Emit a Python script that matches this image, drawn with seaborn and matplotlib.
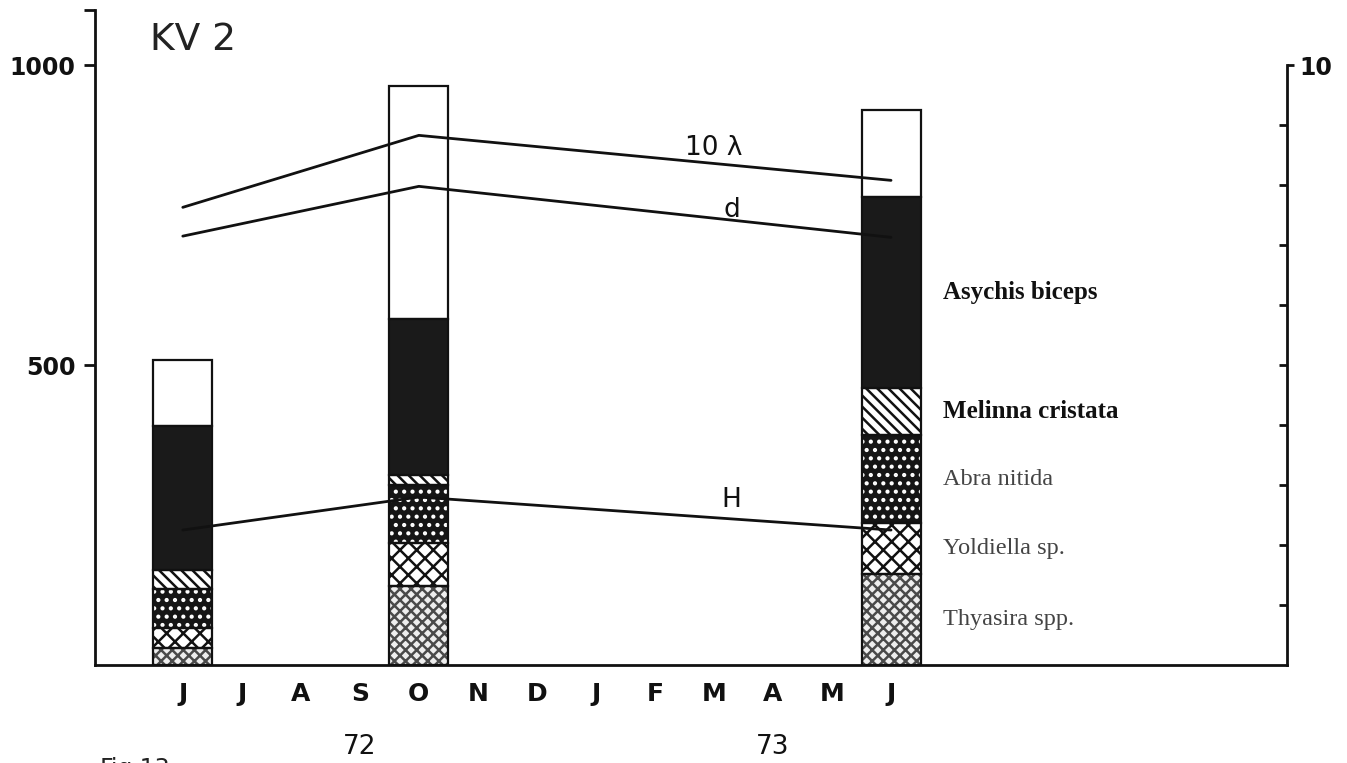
import numpy as np
import pandas as pd
import matplotlib
matplotlib.use('Agg')
import matplotlib.pyplot as plt
import seaborn as sns
from matplotlib.ticker import FixedLocator

sns.set_theme(style='white')
plt.rcParams['font.family'] = ['DejaVu Sans']
plt.rcParams['hatch.linewidth'] = 1.8

# months Jun 72 .. Jun 73
months = ['J', 'J', 'A', 'S', 'O', 'N', 'D', 'J', 'F', 'M', 'A', 'M', 'J']
sample_pos = [0, 4, 12]  # June 72, Oct 72, June 73

# abundance per species (individuals), stacked bottom to top
species = ['Thyasira spp.', 'Yoldiella sp.', 'Abra nitida', 'Melinna cristata',
           'Asychis biceps', 'others']
thyasira = [28, 132, 152]
yoldiella = [34, 71, 85]
abra = [65, 97, 146]
melinna = [31, 17, 79]
asychis = [240, 260, 318]
others = [110, 388, 145]

# diversity indices (right axis, 0-10)
lambda10 = [7.63, 8.83, 8.08]
d_index = [7.15, 7.98, 7.13]
h_index = [2.25, 2.80, 2.25]

styles = [
    dict(facecolor='#eeeeee', hatch_color='#4a4a4a', hatch='xxx'),      # Thyasira
    dict(facecolor='white', hatch_color='#111111', hatch='xx'),          # Yoldiella
    dict(facecolor='#151515', hatch_color='white', hatch='..'),          # Abra
    dict(facecolor='white', hatch_color='#111111', hatch='\\\\\\'),      # Melinna
    dict(facecolor='#1a1a1a', hatch_color='#1a1a1a', hatch=None),        # Asychis
    dict(facecolor='white', hatch_color='white', hatch=None),            # others
]

fig = plt.figure(figsize=(13.47, 7.63), dpi=100)
ax = fig.add_axes([95 / 1347, 1 - 665 / 763, 1192 / 1347, 655 / 763])
ax2 = ax.twinx()

stack = np.array([thyasira, yoldiella, abra, melinna, asychis, others], dtype=float)
bottoms = np.zeros(len(sample_pos))
bar_w = 1.0
for vals, st in zip(stack, styles):
    ax.bar(sample_pos, vals, bottom=bottoms, width=bar_w, color=st['facecolor'],
           edgecolor=st['hatch_color'], hatch=st['hatch'], linewidth=0, zorder=2)
    ax.bar(sample_pos, vals, bottom=bottoms, width=bar_w, fill=False,
           edgecolor='#111111', linewidth=1.6, zorder=3)
    bottoms += vals

# species labels beside the last bar
last_bottom = 0
for name, vals in zip(species[:-1], stack[:-1]):
    mid = last_bottom + vals[-1] / 2
    last_bottom += vals[-1]
    dark = name in ('Asychis biceps', 'Melinna cristata')
    ax.text(12.88, mid, name, family='Liberation Serif',
            fontsize=18 if dark else 17.5,
            fontweight='bold' if dark else 'normal',
            color='#111111' if dark else '#444444', ha='left', va='center')

idx = pd.DataFrame({'pos': sample_pos * 3,
                    'value': lambda10 + d_index + h_index,
                    'index': ['10λ'] * 3 + ['d'] * 3 + ['H'] * 3})
for name, grp in idx.groupby('index'):
    sns.lineplot(data=grp, x='pos', y='value', ax=ax2, color='#111111',
                 linewidth=2, sort=False, estimator=None, legend=False, zorder=4)

ax2.text(8.99, 8.62, '10 λ', fontsize=19, ha='center', va='center', color='#111111')
ax2.text(9.3, 7.58, 'd', fontsize=19, ha='center', va='center', color='#111111')
ax2.text(9.3, 2.75, 'H', fontsize=19, ha='center', va='center', color='#111111')

xmin = -88 / 59.17
xmax = (1290 - 183) / 59.17
ax.set_xlim(xmin, xmax)
ax.set_ylim(0, 1092)
ax2.set_ylim(0, 10.92)

for a in (ax, ax2):
    a.set_xlabel('')
    a.set_ylabel('')
    a.grid(False)
    a.spines['top'].set_visible(False)

ax.spines['right'].set_visible(False)
ax2.spines['left'].set_visible(False)
ax2.spines['bottom'].set_visible(False)
ax2.spines['right'].set_bounds(0, 10)
for sp in ('left', 'bottom'):
    ax.spines[sp].set_color('#111111')
    ax.spines[sp].set_linewidth(2)
ax2.spines['right'].set_color('#111111')
ax2.spines['right'].set_linewidth(2)

ax.set_xticks(range(len(months)))
ax.set_xticklabels(months, fontsize=18, fontweight='bold', color='#111111')
ax.tick_params(axis='x', length=0, pad=12)

ax.set_yticks([500, 1000, 1092])
ax.set_yticklabels(['500', '1000', ''], fontsize=17, fontweight='bold',
                   color='#111111')
ax.tick_params(axis='y', direction='out', length=8, width=2, color='#111111',
               pad=6, left=True)

ax2.yaxis.set_major_locator(FixedLocator([10]))
ax2.set_yticklabels(['10'], fontsize=17, fontweight='bold', color='#111111')
ax2.yaxis.set_minor_locator(FixedLocator(range(1, 10)))
ax2.tick_params(axis='y', which='major', direction='out', length=5, width=2,
                color='#111111', pad=4, right=True)
ax2.tick_params(axis='y', which='minor', direction='in', length=6, width=2,
                color='#111111', right=True)

ax.text(3, -0.125, '72', transform=ax.get_xaxis_transform(), fontsize=19,
        ha='center', va='center', color='#111111')
ax.text(10, -0.125, '73', transform=ax.get_xaxis_transform(), fontsize=19,
        ha='center', va='center', color='#111111')

ax.text(55 / 1192, 625 / 655, 'KV 2', transform=ax.transAxes, fontsize=27,
        ha='left', va='center', color='#222222')
fig.text(100 / 1347, 0.008, 'Fig.13', fontsize=17, ha='left', va='top',
         color='#222222')

fig.savefig('out.png', dpi=100, facecolor='white')
